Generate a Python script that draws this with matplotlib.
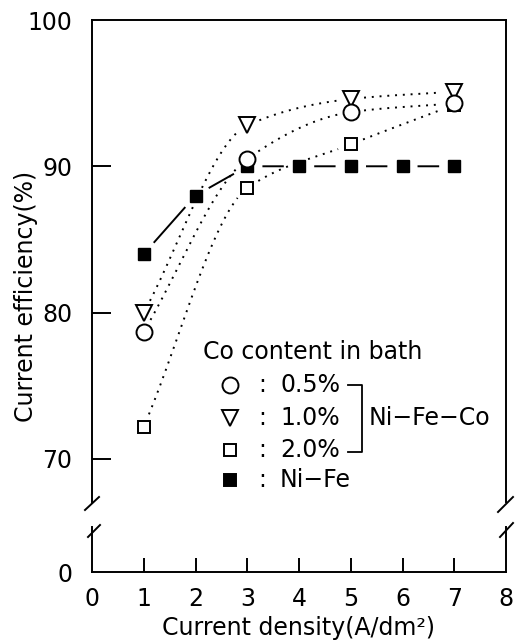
import numpy as np
import matplotlib
matplotlib.use("Agg")
import matplotlib.pyplot as plt
from matplotlib.lines import Line2D

# data
current_density = [1, 2, 3, 4, 5, 6, 7]
co_x = [1, 3, 5, 7]
co_05 = [78.7, 90.5, 93.7, 94.3]
co_10 = [80.0, 92.8, 94.6, 95.1]
co_20 = [72.2, 88.5, 91.5, 94.2]
ni_fe = [84.0, 88.0, 90.0, 90.0, 90.0, 90.0, 90.0]

x_ticks = [0, 1, 2, 3, 4, 5, 6, 7, 8]
y_ticks = [70, 80, 90, 100]
legend_labels = ["0.5%", "1.0%", "2.0%", "Ni\u2212Fe"]

plt.rcParams['font.family'] = ['DejaVu Sans']
FS = 17


def pchip(x, y, xs):
    # monotone cubic (Fritsch-Carlson), only used to draw smooth curves through the points
    x = np.asarray(x, float)
    y = np.asarray(y, float)
    h = np.diff(x)
    d = np.diff(y) / h
    m = np.zeros_like(y)
    m[0], m[-1] = d[0], d[-1]
    for i in range(1, len(x) - 1):
        if d[i - 1] * d[i] > 0:
            w1 = 2 * h[i] + h[i - 1]
            w2 = h[i] + 2 * h[i - 1]
            m[i] = (w1 + w2) / (w1 / d[i - 1] + w2 / d[i])
    out = np.empty_like(xs)
    for j, v in enumerate(xs):
        i = min(np.searchsorted(x, v) - 1, len(x) - 2)
        i = max(i, 0)
        t = (v - x[i]) / h[i]
        h00 = 2 * t**3 - 3 * t**2 + 1
        h10 = t**3 - 2 * t**2 + t
        h01 = -2 * t**3 + 3 * t**2
        h11 = t**3 - t**2
        out[j] = h00 * y[i] + h10 * h[i] * m[i] + h01 * y[i + 1] + h11 * h[i] * m[i + 1]
    return out


def gapped(ax, xs, ys, px, py, r):
    # blank out the curve near the markers, like the original drawing
    pts = ax.transData.transform(np.column_stack([xs, ys]))
    mk = ax.transData.transform(np.column_stack([px, py]))
    ys = ys.copy()
    for p in mk:
        dist = np.hypot(pts[:, 0] - p[0], pts[:, 1] - p[1])
        ys[dist < r] = np.nan
    return ys


fig = plt.figure(figsize=(5.23, 6.41), dpi=100)
L, R = 92 / 523, 506 / 523
ax = fig.add_axes([L, 1 - 502 / 641, R - L, (502 - 20) / 641])
ax2 = fig.add_axes([L, 1 - 572 / 641, R - L, 45 / 641])

ax.set_xlim(0, 8)
ax.set_ylim(67.05, 100)
ax2.set_xlim(0, 8)
ax2.set_ylim(0, 3.08)

# dotted smooth curves for Ni-Fe-Co
xs = np.linspace(1, 7, 600)
for ys_data in (co_05, co_10, co_20):
    ys = pchip(co_x, ys_data, xs)
    ys = gapped(ax, xs, ys, co_x, ys_data, 13)
    ax.plot(xs, ys, color='black', lw=1.4, linestyle=(0, (1, 3)), zorder=2)

# Ni-Fe dashes between the markers
xn = np.linspace(1, 7, 1200)
yn = np.interp(xn, current_density, ni_fe)
yn = gapped(ax, xn, yn, current_density, ni_fe, 16)
ax.plot(xn, yn, color='black', lw=1.4, zorder=2)

ax.plot(co_x, co_20, 's', ms=9, mfc='white', mec='black', mew=1.4, zorder=3)
ax.plot(co_x, co_10, 'v', ms=11.5, mfc='white', mec='black', mew=1.4, zorder=3)
ax.plot(co_x, co_05, 'o', ms=11.5, mfc='white', mec='black', mew=1.4, zorder=4)
ax.plot(current_density, ni_fe, 's', ms=9, mfc='black', mec='black', zorder=3)

# axes styling
for a in (ax, ax2):
    for s in a.spines.values():
        s.set_linewidth(1.4)
ax.spines['bottom'].set_visible(False)
ax2.spines['top'].set_visible(False)
ax.set_xticks([])
ax.set_yticks(y_ticks)
ax.set_yticklabels([str(v) for v in y_ticks], fontsize=FS)
ax.tick_params(axis='y', direction='in', length=14, width=1.4, pad=14)
ax.yaxis.get_major_ticks()[-1].tick1line.set_visible(False)

ax2.set_xticks(x_ticks)
ax2.set_xticklabels([str(v) for v in x_ticks], fontsize=FS)
ax2.set_yticks([0])
ax2.set_yticklabels(['0'], fontsize=FS)
ax2.tick_params(axis='x', direction='in', length=10, width=1.4, pad=11)
ax2.tick_params(axis='y', length=0, pad=14)
for t in (ax2.xaxis.get_major_ticks()[0], ax2.xaxis.get_major_ticks()[-1]):
    t.tick1line.set_visible(False)

# break marks
for (x0, y0), (x1, y1) in [((85, 510), (99, 497)), ((88, 537), (100, 525)),
                           ((498, 512), (513, 497)), ((500, 537), (513, 523))]:
    fig.add_artist(Line2D([x0 / 523, x1 / 523], [1 - y0 / 641, 1 - y1 / 641],
                          color='black', lw=1.4))

fig.text(26 / 523, 1 - 296 / 641, "Current efficiency(%)", rotation=90,
         ha='center', va='center', fontsize=FS)
fig.text(299 / 523, 1 - 628 / 641, "Current density(A/dm\u00b2)",
         ha='center', va='center', fontsize=FS)

# legend drawn by hand
fig.text(203 / 523, 1 - 352 / 641, "Co content in bath", ha='left', va='center', fontsize=FS)
rows = [385, 418, 450, 480]
marks = [('o', 'white', 11.5), ('v', 'white', 11.5), ('s', 'white', 9), ('s', 'black', 9)]
for yy, lab, (m, fc, ms) in zip(rows, legend_labels, marks):
    fig.add_artist(Line2D([230 / 523], [1 - yy / 641], marker=m, ms=ms, mfc=fc,
                          mec='black', mew=1.4, linestyle='none'))
    fig.text(262 / 523, 1 - yy / 641, ":", ha='center', va='center', fontsize=FS)
    fig.text(280 / 523, 1 - yy / 641, lab, ha='left', va='center', fontsize=FS)

bx = [348 / 523, 362 / 523, 362 / 523, 348 / 523]
by = [1 - 385 / 641, 1 - 385 / 641, 1 - 452 / 641, 1 - 452 / 641]
fig.add_artist(Line2D(bx, by, color='black', lw=1.3))
fig.text(369 / 523, 1 - 418 / 641, "Ni\u2212Fe\u2212Co", ha='left', va='center', fontsize=FS)

fig.savefig("out.png", dpi=100)
